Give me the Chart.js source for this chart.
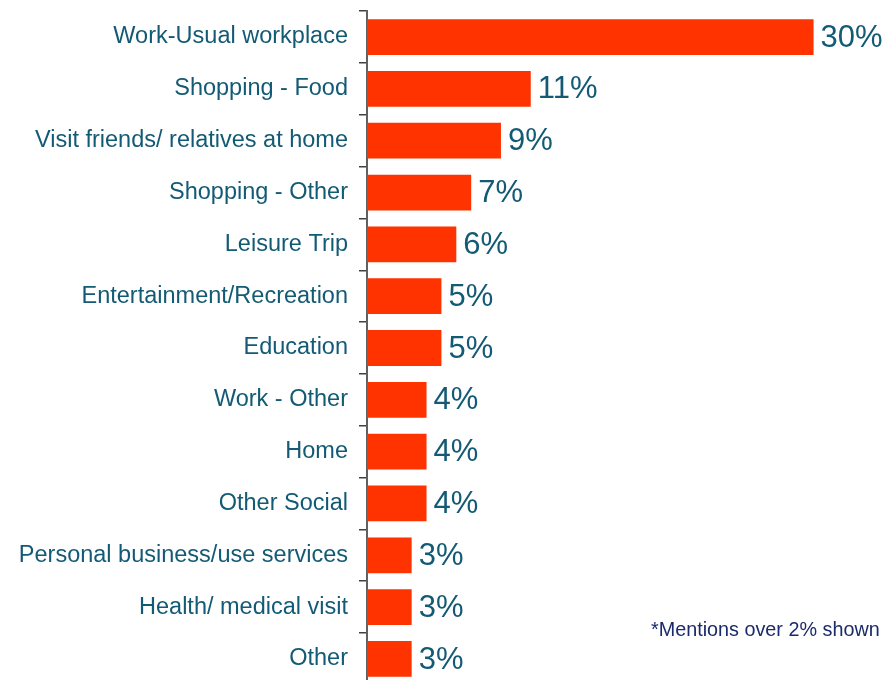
<!DOCTYPE html>
<html>
<head>
<meta charset="utf-8">
<script src="https://cdn.jsdelivr.net/npm/chart.js@4.4.1/dist/chart.umd.min.js"></script>
<style>
  html, body { margin: 0; padding: 0; background: #ffffff; overflow: hidden; width: 888px; height: 680px; }
  #wrap { position: absolute; left: 0; top: -14px; width: 888px; height: 724px; }
  #note { position: absolute; left: 651px; top: 618px; font-family: "Liberation Sans", Arial, sans-serif; font-size: 19.8px; color: #1B2A6B; white-space: nowrap; }
</style>
</head>
<body>
<div id="wrap"><canvas id="c"></canvas></div>
<div id="note">*Mentions over 2% shown</div>
<script>
const categories = [
  "Work-Usual workplace",
  "Shopping - Food",
  "Visit friends/ relatives at home",
  "Shopping - Other",
  "Leisure Trip",
  "Entertainment/Recreation",
  "Education",
  "Work - Other",
  "Home",
  "Other Social",
  "Personal business/use services",
  "Health/ medical visit",
  "Other"
];
const values = [30, 11, 9, 7, 6, 5, 5, 4, 4, 4, 3, 3, 3];
const valueLabels = ["30%", "11%", "9%", "7%", "6%", "5%", "5%", "4%", "4%", "4%", "3%", "3%", "3%"];

const textColor = "#135A74";
const barColor = "#FF3300";

const valueLabelPlugin = {
  id: "valueLabels",
  afterDatasetsDraw(chart) {
    const ctx = chart.ctx;
    const meta = chart.getDatasetMeta(0);
    ctx.save();
    ctx.font = '31px "Liberation Sans", Arial, sans-serif';
    ctx.fillStyle = textColor;
    ctx.textAlign = "left";
    ctx.textBaseline = "middle";
    meta.data.forEach((bar, i) => {
      ctx.fillText(valueLabels[i], bar.x + 7, bar.y + 1);
    });
    ctx.restore();
  }
};

new Chart(document.getElementById("c"), {
  type: "bar",
  data: {
    labels: categories,
    datasets: [{
      data: values,
      backgroundColor: barColor,
      borderWidth: 0,
      barPercentage: 0.69,
      categoryPercentage: 1.0
    }]
  },
  options: {
    indexAxis: "y",
    responsive: true,
    maintainAspectRatio: false,
    animation: false,
    events: [],
    layout: { padding: { top: 0, bottom: 0, left: 0, right: 0 } },
    plugins: { legend: { display: false }, tooltip: { enabled: false } },
    scales: {
      x: {
        display: false,
        min: 0,
        max: 35
      },
      y: {
        afterFit(scale) { scale.width = 367; },
        border: { display: true, color: "#606060", width: 2 },
        grid: {
          display: true,
          drawOnChartArea: false,
          drawTicks: true,
          tickLength: 8,
          offset: true,
          color: "#404040",
          lineWidth: 1.5
        },
        ticks: {
          color: textColor,
          padding: 11,
          font: { family: '"Liberation Sans", Arial, sans-serif', size: 23.5 }
        }
      }
    }
  },
  plugins: [valueLabelPlugin]
});
</script>
</body>
</html>
